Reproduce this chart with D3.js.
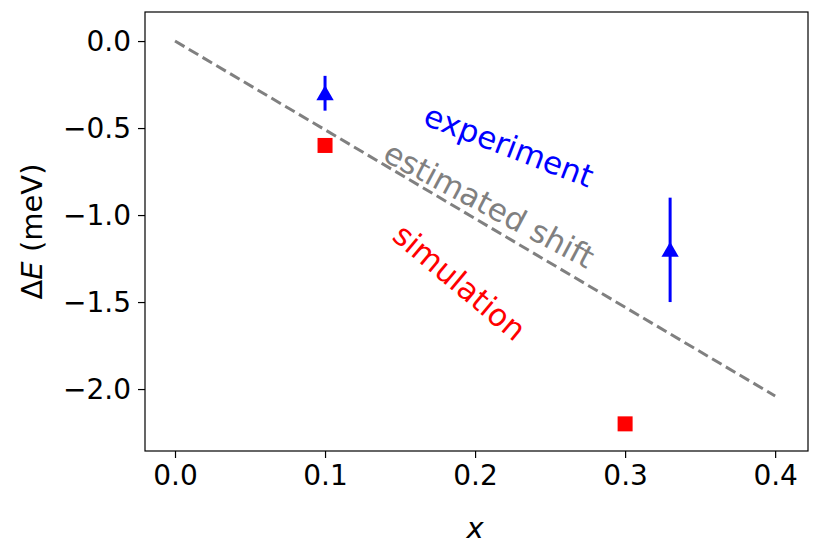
<!DOCTYPE html>
<html><head><meta charset="utf-8">
<script src="https://cdn.jsdelivr.net/npm/d3@7"></script>
<style>body{margin:0;background:#fff}text{font-family:"DejaVu Sans",sans-serif}</style>
</head><body><svg id="c" width="830" height="557"></svg>
<script>
// data
const shiftLine = [[0, 0], [0.4, -2.04]];
const experiment = [{x: 0.1, y: -0.3, lo: -0.4, hi: -0.2}, {x: 0.33, y: -1.2, lo: -1.5, hi: -0.9}];
const simulation = [{x: 0.1, y: -0.6}, {x: 0.3, y: -2.2}];
const xTicks = [0, 0.1, 0.2, 0.3, 0.4];
const yTicks = [0, -0.5, -1.0, -1.5, -2.0];

const svg = d3.select('#c');
const m = {l: 145, r: 808, t: 12, b: 451};
const x = d3.scaleLinear().domain([-0.02, 0.4219]).range([m.l, m.r]);
const y = d3.scaleLinear().domain([-2.356, 0.167]).range([m.b, m.t]);

const fmt = d => d3.format('.1f')(d).replace('-', '\u2212');
const xa = svg.append('g').attr('transform', `translate(0,${m.b})`)
	.call(d3.axisBottom(x).tickValues(xTicks).tickFormat(fmt).tickSize(7).tickPadding(7));
const ya = svg.append('g').attr('transform', `translate(${m.l},0)`)
	.call(d3.axisLeft(y).tickValues(yTicks).tickFormat(fmt).tickSize(7).tickPadding(7));
[xa, ya].forEach(a => {
	a.attr('font-size', null);
	a.selectAll('text').style('font-size', '28px').attr('fill', '#000');
	a.selectAll('line').attr('stroke', '#000').attr('stroke-width', 1.2);
	a.select('.domain').remove();
});
svg.append('rect').attr('x', m.l).attr('y', m.t).attr('width', m.r - m.l).attr('height', m.b - m.t)
	.attr('fill', 'none').attr('stroke', '#000').attr('stroke-width', 1.2);

svg.append('path').attr('d', d3.line().x(d => x(d[0])).y(d => y(d[1]))(shiftLine))
	.attr('stroke', 'gray').attr('stroke-width', 3).attr('stroke-dasharray', '11,5').attr('fill', 'none');

svg.selectAll('.err').data(experiment).join('line')
	.attr('x1', d => x(d.x)).attr('x2', d => x(d.x)).attr('y1', d => y(d.lo)).attr('y2', d => y(d.hi))
	.attr('stroke', 'blue').attr('stroke-width', 3);
svg.selectAll('.tri').data(experiment).join('path')
	.attr('d', d3.symbol(d3.symbolTriangle, 130))
	.attr('transform', d => `translate(${x(d.x)},${y(d.y) + 2})`).attr('fill', 'blue');
svg.selectAll('.sq').data(simulation).join('rect')
	.attr('x', d => x(d.x) - 7.5).attr('y', d => y(d.y) - 7.5).attr('width', 15).attr('height', 15).attr('fill', 'red');

const lab = (t, cx, cy, rot, col) => svg.append('text').text(t).style('font-size', '31px').attr('fill', col)
	.attr('text-anchor', 'middle').attr('dominant-baseline', 'middle')
	.attr('transform', `translate(${cx},${cy}) rotate(${rot})`);
lab('experiment', 508, 148, 21, 'blue');
lab('estimated shift', 488, 207, 28, 'gray');
lab('simulation', 458, 284, 40, 'red');

svg.append('text').attr('x', x(0.2)).attr('y', 538).attr('text-anchor', 'middle')
	.style('font-size', '29px').attr('font-style', 'italic').text('x');
svg.append('text').attr('transform', `translate(42,${(m.t + m.b) / 2}) rotate(-90)`).attr('text-anchor', 'middle')
	.style('font-size', '29px').html('\u0394<tspan font-style="italic">E</tspan> (meV)');
</script></body></html>
